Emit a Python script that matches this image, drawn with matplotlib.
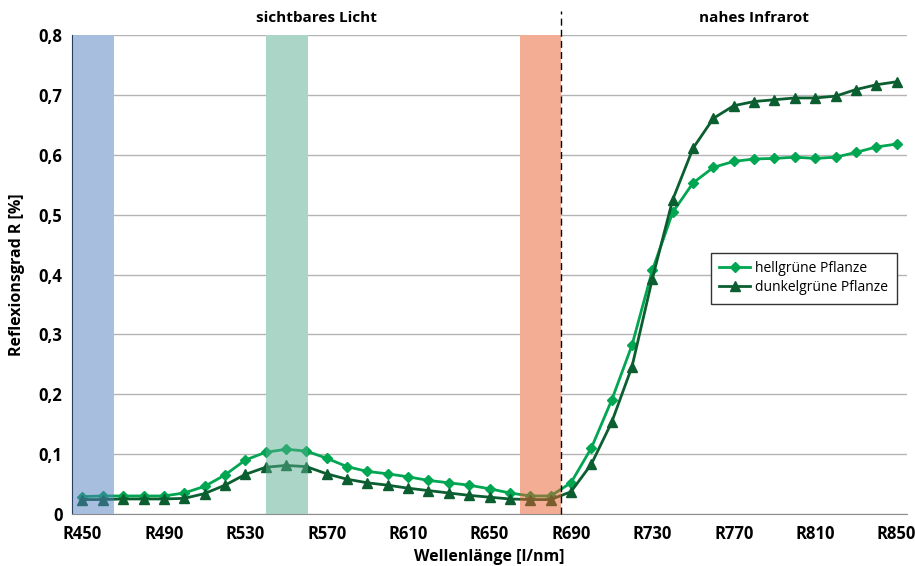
import numpy as np
import matplotlib.pyplot as plt
from matplotlib.patches import Rectangle

# Wellenlaengen R450 ... R850 (Schritt 10 nm)
wellen = ["R%d" % w for w in range(450, 851, 10)]

hellgruen = [0.029, 0.030, 0.030, 0.030, 0.030, 0.035, 0.046, 0.065, 0.090, 0.103,
             0.108, 0.105, 0.093, 0.079, 0.071, 0.067, 0.062, 0.056, 0.052, 0.048,
             0.042, 0.035, 0.030, 0.030, 0.052, 0.110, 0.190, 0.282, 0.407, 0.504,
             0.553, 0.579, 0.589, 0.593, 0.594, 0.596, 0.594, 0.596, 0.604, 0.613,
             0.618]

dunkelgruen = [0.024, 0.024, 0.025, 0.025, 0.025, 0.026, 0.034, 0.048, 0.066, 0.078,
               0.081, 0.079, 0.067, 0.058, 0.052, 0.048, 0.043, 0.039, 0.035, 0.031,
               0.028, 0.025, 0.024, 0.024, 0.037, 0.083, 0.153, 0.246, 0.393, 0.525,
               0.611, 0.661, 0.682, 0.689, 0.692, 0.695, 0.695, 0.698, 0.709, 0.717,
               0.722]

y_ticks = [0, 0.1, 0.2, 0.3, 0.4, 0.5, 0.6, 0.7, 0.8]
y_labels = ["0", "0,1", "0,2", "0,3", "0,4", "0,5", "0,6", "0,7", "0,8"]

plt.rcParams['font.family'] = ['Open Sans', 'DejaVu Sans']

fig = plt.figure(figsize=(9.15, 5.66), dpi=100)
ax = fig.add_axes([0.079, 0.092, 0.912, 0.846])

x = np.arange(len(wellen))

ax.plot(x, hellgruen, '-', color='#00a651', lw=2, marker='D', ms=5,
        label='hellgrüne Pflanze', zorder=3)
ax.plot(x, dunkelgruen, '-', color='#0b5e2f', lw=2, marker='^', ms=7,
        label='dunkelgrüne Pflanze', zorder=3)

# farbige Baender (halbtransparent ueber den Kurven)
baender = [(-0.5, 1.55, '#537fc1'), (9.0, 11.1, '#59ad8f'), (21.5, 23.5, '#eb5d2d')]
for a, b, c in baender:
    ax.add_patch(Rectangle((a, 0), b - a, 0.8, facecolor='white', edgecolor='none', zorder=1.5))
    ax.add_patch(Rectangle((a, 0), b - a, 0.8, facecolor=c, alpha=0.5, edgecolor='none', zorder=4))

# Trennlinie sichtbar / Infrarot
ax.plot([23.5, 23.5], [0, 0.84], '--', color='black', lw=1, dashes=(5, 3), clip_on=False, zorder=5)
ax.annotate('sichtbares Licht', (11.5, 0.8), xytext=(0, 12), textcoords='offset points',
            ha='center', va='center', fontsize=11, fontweight='bold')
ax.annotate('nahes Infrarot', (33.0, 0.8), xytext=(0, 12), textcoords='offset points',
            ha='center', va='center', fontsize=11, fontweight='bold')

ax.set_xlim(-0.5, len(wellen) - 0.5)
ax.set_ylim(0, 0.8)
ax.set_xticks(x[::4])
ax.set_xticklabels(wellen[::4], fontsize=12, fontweight='bold')
ax.set_yticks(y_ticks)
ax.set_yticklabels(y_labels, fontsize=12, fontweight='bold')
ax.tick_params(axis='x', length=0, pad=8)
ax.tick_params(axis='y', length=0, pad=7)

ax.yaxis.grid(True, color='#b4b4b4', lw=1, zorder=0)
ax.set_axisbelow(True)
for s in ['top', 'right']:
    ax.spines[s].set_visible(False)
ax.spines['left'].set_color('black')
ax.spines['bottom'].set_color('#8c8c8c')

ax.set_xlabel('Wellenlänge [l/nm]', fontsize=11.5, fontweight='bold', labelpad=4)
ax.set_ylabel('Reflexionsgrad R [%]', fontsize=11.5, fontweight='bold', labelpad=10)

leg = ax.legend(loc='upper left', bbox_to_anchor=(0.757, 0.56), fontsize=10,
                fancybox=False, edgecolor='#333333', framealpha=1, handlelength=2.2,
                handletextpad=0.4, borderpad=0.6, labelspacing=0.3)
leg.get_frame().set_linewidth(1)

plt.savefig('out.png', dpi=100)
